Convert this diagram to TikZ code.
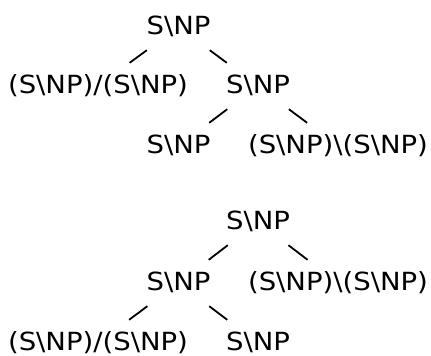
\documentclass[tikz,border=0pt]{standalone}
\usepackage{fontspec}
\setmainfont[FakeStretch=1.1]{DejaVu Sans}
\begin{document}
\begin{tikzpicture}[x=1pt,y=-1pt,
  cat/.style={anchor=base, inner xsep=3pt, inner ysep=0pt,
    text height=30pt, text depth=16pt, font=\fontsize{25}{30}\selectfont},
  edge/.style={draw=black, line width=1.8pt}]
\useasboundingbox (0,0) rectangle (431,356);
% first derivation
\node[cat] (a)  at (178.5,34)  {S\textbackslash NP};
\node[cat] (a1) at (98,93)     {(S\textbackslash NP)/(S\textbackslash NP)};
\node[cat] (a2) at (258,93)    {S\textbackslash NP};
\node[cat] (a3) at (178.5,153) {S\textbackslash NP};
\node[cat] (a4) at (338,153)   {(S\textbackslash NP)\textbackslash(S\textbackslash NP)};
\draw[edge] (a) -- (a1);
\draw[edge] (a) -- (a2);
\draw[edge] (a2) -- (a3);
\draw[edge] (a2) -- (a4);
% second derivation
\node[cat] (b)  at (258,229)   {S\textbackslash NP};
\node[cat] (b1) at (178.5,290) {S\textbackslash NP};
\node[cat] (b2) at (338,290)   {(S\textbackslash NP)\textbackslash(S\textbackslash NP)};
\node[cat] (b3) at (98,350)    {(S\textbackslash NP)/(S\textbackslash NP)};
\node[cat] (b4) at (258,350)   {S\textbackslash NP};
\draw[edge] (b) -- (b1);
\draw[edge] (b) -- (b2);
\draw[edge] (b1) -- (b3);
\draw[edge] (b1) -- (b4);
\end{tikzpicture}
\end{document}
